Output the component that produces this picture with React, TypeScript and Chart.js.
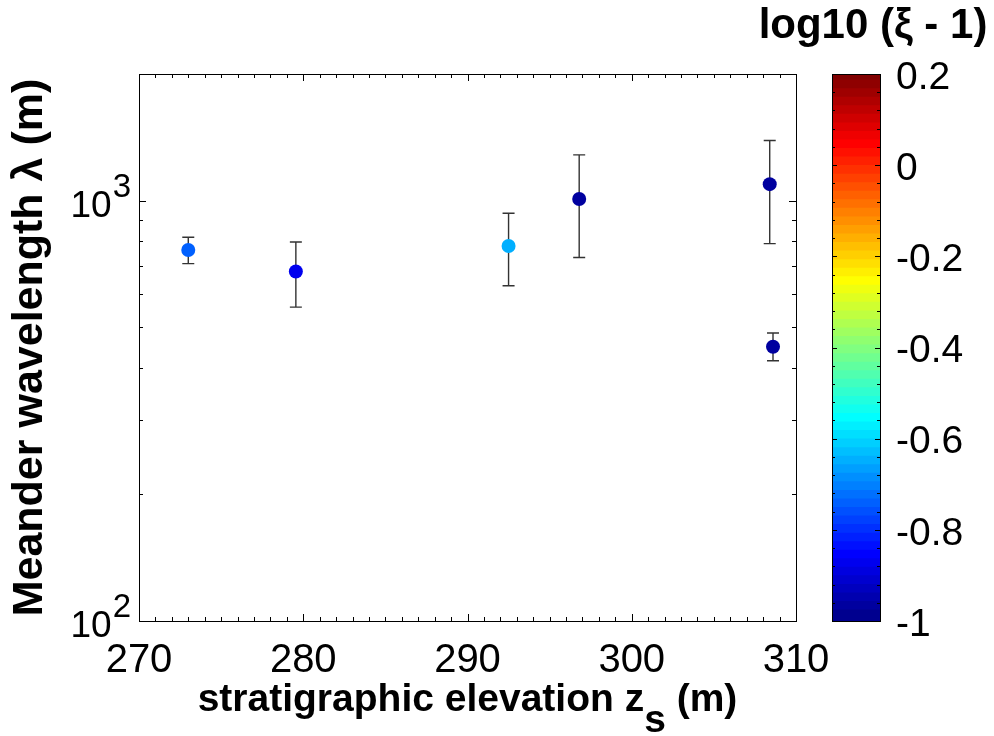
import React, { useEffect, useRef } from 'react';
import { Chart, registerables } from 'chart.js';

Chart.register(...registerables);

// ---------------- data ----------------
const zs = [273.0, 279.55, 292.5, 296.8, 308.4, 308.6];
const lambda = [763, 678, 780, 1009, 1094, 449];
const lambdaLow = [708, 558, 627, 732, 790, 416];
const lambdaHigh = [818, 797, 933, 1284, 1389, 484];
const logXiMinus1 = [-0.75, -0.88, -0.65, -0.97, -0.97, -0.97];

const xMin = 270;
const xMax = 310;
const xMajorTicks = [270, 280, 290, 300, 310];
const xMinorStep = 1;
const yMin = 100;
const yMax = 2000;
const yDecadeTicks = [100, 1000];
const cbMin = -1;
const cbMax = 0.2;
const cbTicks = [-1, -0.8, -0.6, -0.4, -0.2, 0, 0.2];
const cbMinorStep = 0.04;
const cbLevels = 64;

const xTitleMain = 'stratigraphic elevation z';
const xTitleSub = 's';
const xTitleTail = ' (m)';
const yTitle = 'Meander wavelength \u03bb (m)';
const cbTitle = 'log10 (\u03be - 1)';

const FONT = '"Liberation Sans", Arial, Helvetica, sans-serif';

// MATLAB jet(m)
function jetMap(m: number): number[][] {
  const n = Math.ceil(m / 4);
  const u: number[] = [];
  for (let i = 1; i <= n; i++) u.push(i / n);
  for (let i = 1; i < n; i++) u.push(1);
  for (let i = n; i >= 1; i--) u.push(i / n);
  const g0 = Math.ceil(n / 2) - (m % 4 === 1 ? 1 : 0);
  const J = Array.from({ length: m }, () => [0, 0, 0]);
  u.forEach((val, idx) => {
    const g = g0 + idx + 1;
    const r = g + n;
    const b = g - n;
    if (r >= 1 && r <= m) J[r - 1][0] = val;
    if (g >= 1 && g <= m) J[g - 1][1] = val;
    if (b >= 1 && b <= m) J[b - 1][2] = val;
  });
  return J;
}
const JET = jetMap(cbLevels);
const rgb = (c: number[]) =>
  `rgb(${Math.round(c[0] * 255)},${Math.round(c[1] * 255)},${Math.round(c[2] * 255)})`;
function colorFor(v: number) {
  let k = Math.floor(((v - cbMin) / (cbMax - cbMin)) * cbLevels);
  k = Math.max(0, Math.min(cbLevels - 1, k));
  return rgb(JET[k]);
}

// ---------------- plugins ----------------
const mainPlugin = {
  id: 'matlabMain',
  beforeDatasetsDraw(chart: any) {
    const { ctx, scales } = chart;
    const x = scales.x;
    const y = scales.y;
    ctx.save();
    ctx.strokeStyle = '#333333';
    ctx.lineWidth = 1.4;
    const cap = 6;
    zs.forEach((z, i) => {
      const px = x.getPixelForValue(z);
      const y1 = y.getPixelForValue(lambdaHigh[i]);
      const y2 = y.getPixelForValue(lambdaLow[i]);
      ctx.beginPath();
      ctx.moveTo(px, y1);
      ctx.lineTo(px, y2);
      ctx.moveTo(px - cap, y1);
      ctx.lineTo(px + cap, y1);
      ctx.moveTo(px - cap, y2);
      ctx.lineTo(px + cap, y2);
      ctx.stroke();
    });
    ctx.restore();
  },
  afterDraw(chart: any) {
    const { ctx, chartArea, scales } = chart;
    const x = scales.x;
    const y = scales.y;
    const { left, right, top, bottom } = chartArea;
    ctx.save();
    ctx.strokeStyle = '#000';
    ctx.lineWidth = 1;
    ctx.strokeRect(Math.round(left) + 0.5, Math.round(top) + 0.5, Math.round(right - left), Math.round(bottom - top));

    // x ticks (inward, bottom and top)
    ctx.beginPath();
    for (let v = xMin; v <= xMax + 1e-9; v += xMinorStep) {
      const isMajor = xMajorTicks.some((t) => Math.abs(t - v) < 1e-6);
      const len = isMajor ? 7 : 4;
      const px = Math.round(x.getPixelForValue(v)) + 0.5;
      ctx.moveTo(px, bottom);
      ctx.lineTo(px, bottom - len);
      ctx.moveTo(px, top);
      ctx.lineTo(px, top + len);
    }
    // y ticks (log, inward, left and right)
    yDecadeTicks.forEach((d) => {
      for (let m = 1; m <= 9; m++) {
        const v = d * m;
        if (v < yMin - 1e-9 || v > yMax + 1e-9) continue;
        const len = m === 1 ? 7 : 4;
        const py = Math.round(y.getPixelForValue(v)) + 0.5;
        ctx.moveTo(left, py);
        ctx.lineTo(left + len, py);
        ctx.moveTo(right, py);
        ctx.lineTo(right - len, py);
      }
    });
    ctx.stroke();

    // y tick labels 10^n
    ctx.fillStyle = '#000';
    ctx.textBaseline = 'alphabetic';
    ctx.textAlign = 'right';
    yDecadeTicks.forEach((d) => {
      const py = y.getPixelForValue(d);
      const exp = String(Math.round(Math.log10(d)));
      const rightEdge = left - 8;
      ctx.font = `33px ${FONT}`;
      const supW = ctx.measureText(exp).width;
      ctx.fillText(exp, rightEdge, py - 4);
      ctx.font = `37px ${FONT}`;
      ctx.fillText('10', rightEdge - supW - 1, py + 16);
    });

    // x title with subscript
    ctx.font = `bold 39px ${FONT}`;
    const w1 = ctx.measureText(xTitleMain).width;
    const w2 = ctx.measureText(xTitleSub).width;
    const w3 = ctx.measureText(xTitleTail).width;
    const total = w1 + w2 + w3;
    const cx = (left + right) / 2;
    let sx = cx - total / 2;
    const base = 711;
    ctx.textAlign = 'left';
    ctx.fillText(xTitleMain, sx, base);
    sx += w1;
    ctx.fillText(xTitleSub, sx, base + 21);
    sx += w2;
    ctx.fillText(xTitleTail, sx, base);
    ctx.restore();
  },
};

const cbPlugin = {
  id: 'matlabColorbar',
  afterDraw(chart: any) {
    const { ctx, chartArea, scales } = chart;
    const y = scales.y;
    const { left, right, top, bottom } = chartArea;
    ctx.save();
    ctx.strokeStyle = '#000';
    ctx.lineWidth = 1;
    ctx.strokeRect(Math.round(left) + 0.5, Math.round(top) + 0.5, Math.round(right - left), Math.round(bottom - top));
    ctx.beginPath();
    const nMinor = Math.round((cbMax - cbMin) / cbMinorStep);
    for (let i = 0; i <= nMinor; i++) {
      const v = cbMin + i * cbMinorStep;
      const isMajor = cbTicks.some((t) => Math.abs(t - v) < 1e-6);
      const len = isMajor ? 5 : 3;
      const py = Math.round(y.getPixelForValue(v)) + 0.5;
      ctx.moveTo(left, py);
      ctx.lineTo(left + len, py);
      ctx.moveTo(right, py);
      ctx.lineTo(right - len, py);
    }
    ctx.stroke();
    // colorbar title
    ctx.fillStyle = '#000';
    ctx.font = `bold 42px ${FONT}`;
    ctx.textAlign = 'center';
    ctx.textBaseline = 'alphabetic';
    ctx.fillText(cbTitle, 873, 38);
    ctx.restore();
  },
};

// ---------------- component ----------------
export default function App() {
  const mainRef = useRef<HTMLCanvasElement | null>(null);
  const cbRef = useRef<HTMLCanvasElement | null>(null);

  useEffect(() => {
    const W = 994;
    const H = 736;
    const plotLeft = 139;
    const plotRight = 796;
    const plotTop = 74;
    const plotBottom = 621;
    const cbLeft = 832;
    const cbRight = 880;

    const main = new Chart(mainRef.current as HTMLCanvasElement, {
      type: 'scatter',
      data: {
        datasets: [
          {
            data: zs.map((z, i) => ({ x: z, y: lambda[i] })),
            backgroundColor: logXiMinus1.map(colorFor),
            pointBackgroundColor: logXiMinus1.map(colorFor),
            pointBorderWidth: 0,
            pointRadius: 7,
            pointHoverRadius: 7,
          },
        ],
      },
      plugins: [mainPlugin],
      options: {
        responsive: false,
        animation: false,
        devicePixelRatio: 1,
        layout: { padding: { left: 0, top: plotTop, right: W - plotRight, bottom: 0 } },
        plugins: { legend: { display: false }, tooltip: { enabled: false } },
        scales: {
          x: {
            type: 'linear',
            min: xMin,
            max: xMax,
            afterBuildTicks: (s: any) => {
              s.ticks = xMajorTicks.map((v) => ({ value: v }));
            },
            afterFit: (s: any) => {
              s.height = H - plotBottom;
            },
            grid: { display: false },
            border: { display: false },
            ticks: {
              autoSkip: false,
              maxRotation: 0,
              padding: 8,
              color: '#000',
              font: { family: FONT, size: 40 },
            },
          },
          y: {
            type: 'logarithmic',
            min: yMin,
            max: yMax,
            afterFit: (s: any) => {
              s.width = plotLeft;
            },
            grid: { display: false },
            border: { display: false },
            ticks: { display: false },
            title: {
              display: true,
              text: yTitle,
              color: '#000',
              font: { family: FONT, size: 43, weight: 'bold' },
              padding: { top: 4, bottom: 0 },
            },
          },
        },
      },
    } as any);

    const cbStep = (cbMax - cbMin) / cbLevels;
    const cb = new Chart(cbRef.current as HTMLCanvasElement, {
      type: 'bar',
      data: {
        labels: ['cb'],
        datasets: JET.map((c, i) => ({
          data: [[cbMin + i * cbStep, Math.min(cbMax, cbMin + (i + 1.3) * cbStep)]],
          backgroundColor: rgb(c),
          borderWidth: 0,
          grouped: false,
          barPercentage: 1,
          categoryPercentage: 1,
        })),
      },
      plugins: [cbPlugin],
      options: {
        responsive: false,
        animation: false,
        devicePixelRatio: 1,
        layout: { padding: { left: cbLeft, top: plotTop, right: 0, bottom: H - plotBottom } },
        plugins: { legend: { display: false }, tooltip: { enabled: false } },
        scales: {
          x: { display: false },
          y: {
            type: 'linear',
            position: 'right',
            min: cbMin,
            max: cbMax,
            afterBuildTicks: (s: any) => {
              s.ticks = cbTicks.map((v) => ({ value: v }));
            },
            afterFit: (s: any) => {
              s.width = W - cbRight;
            },
            grid: { display: false },
            border: { display: false },
            ticks: {
              padding: 8,
              labelOffset: 4,
              color: '#000',
              font: { family: FONT, size: 39 },
              callback: (v: any) => {
                const r = Math.round(Number(v) * 10) / 10;
                return r === 0 ? '0' : String(r);
              },
            },
          },
        },
      },
    } as any);

    return () => {
      main.destroy();
      cb.destroy();
    };
  }, []);

  const canvasStyle: React.CSSProperties = { position: 'absolute', left: 0, top: 0 };
  return (
    <div style={{ position: 'absolute', left: 0, top: 0, width: 994, height: 736, background: '#fff' }}>
      <canvas ref={mainRef} width={994} height={736} style={canvasStyle} />
      <canvas ref={cbRef} width={994} height={736} style={canvasStyle} />
    </div>
  );
}
